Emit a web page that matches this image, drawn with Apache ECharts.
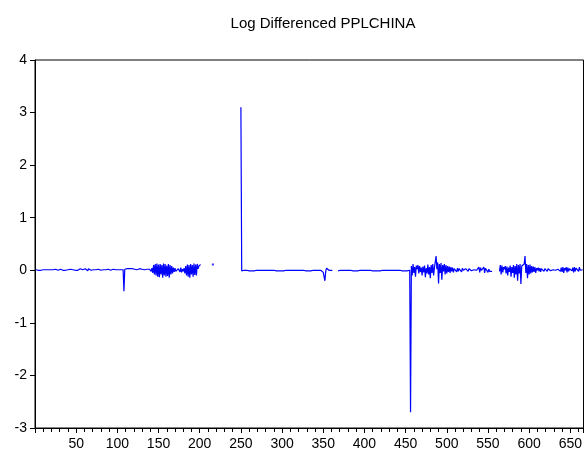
<!DOCTYPE html>
<html>
<head>
<meta charset="utf-8">
<script src="https://cdn.jsdelivr.net/npm/echarts@6/dist/echarts.min.js"></script>
<style>
  html, body { margin: 0; padding: 0; background: #fff; }
  #chart { width: 585px; height: 457px; }
</style>
</head>
<body>
<div id="chart"></div>
<script>
// Log-differenced PPLCHINA, stored as contiguous runs of observations.
// Each run starts at the observation number given by its *Start constant.

const runAStart = 1;
const runA = [
  0.01,0.00,0.01,0.00,0.01,0.01,0.00,0.01,0.02,0.01,
  0.01,0.02,0.01,0.00,0.01,0.01,0.02,0.01,0.01,0.00,
  0.01,0.01,0.00,0.01,0.02,0.01,0.01,0.00,0.01,0.01,
  0.02,0.01,0.01,0.00,0.01,0.01,0.00,0.02,0.01,0.01,
  0.00,0.01,0.02,0.01,0.00,0.01,0.01,0.02,0.00,0.01,
  0.01,0.00,0.02,0.01,0.03,0.00,0.02,0.01,0.03,-0.01,
  0.03,0.00,0.02,-0.01,0.03,0.01,0.02,0.00,0.02,0.01,
  0.01,0.00,0.02,0.01,0.01,0.00,0.02,0.01,0.01,0.00,
  0.01,0.02,0.01,0.00,0.01,0.01,0.00,0.01,0.02,0.01,
  0.01,0.00,0.01,0.01,0.02,0.01,0.00,0.01,0.01,0.00,
  0.01,0.01,0.00,0.01,0.01,0.00,0.01,-0.40,0.02,0.03,
  0.02,0.03,0.01,0.02,0.03,0.02,0.02,0.03,0.02,0.01,
  0.02,0.03,0.02,0.01,0.02,0.03,0.03,0.02,0.01,0.02,
  0.01,0.02,0.01,0.00,0.01,0.02,0.00,-0.01,0.02,0.00,
  -0.02,0.04,-0.05,0.10,-0.08,0.12,-0.10,0.13,-0.12,0.11,
  -0.13,0.12,-0.08,0.10,-0.14,0.13,-0.10,0.12,-0.12,0.09,
  -0.11,0.12,-0.14,0.10,-0.08,0.08,-0.06,0.05,-0.03,0.04,
  -0.02,0.01,-0.02,0.03,0.00,-0.03,0.05,-0.04,0.02,-0.02,
  0.04,-0.06,0.08,-0.10,0.11,-0.12,0.10,-0.14,0.12,-0.08,
  0.10,-0.12,0.13,-0.09,0.11,-0.10,0.12,0.03,0.08,0.10,0.11
];

// A lone observation surrounded by missing values
const loneObs = [[216, 0.11]];

const runBStart = 250;
const runB = [
  3.10,
  -0.01,0.00,-0.01,0.00,-0.01,-0.01,0.00,-0.01,0.00,-0.01,
  0.00,-0.01,-0.01,0.00,0.00,-0.01,0.00,-0.01,0.00,0.00,
  -0.01,0.00,0.00,-0.01,0.00,-0.01,-0.01,0.00,0.00,-0.01,
  0.00,0.00,-0.01,0.00,-0.01,0.00,0.00,-0.01,0.00,0.00,
  -0.01,0.00,-0.01,0.00,0.00,-0.01,0.00,0.00,-0.01,0.00,
  0.00,-0.01,0.00,-0.01,0.00,0.00,-0.01,0.00,0.00,-0.01,
  0.00,0.00,-0.01,0.00,0.00,-0.01,0.00,-0.01,0.00,0.00,
  -0.01,0.00,0.00,-0.01,0.00,0.00,-0.01,0.00,-0.01,0.00,
  0.00,-0.01,0.00,0.00,-0.01,0.00,-0.01,0.00,0.00,-0.01,
  0.00,0.00,-0.01,0.00,-0.01,0.00,0.00,-0.01,-0.02,-0.04,
  -0.03,-0.20,-0.02,0.04,0.03,0.01,0.00,-0.01,0.00,0.00,
  -0.01
];

const runCStart = 368;
const runC = [
  -0.01,0.00,-0.01,0.00,0.00,-0.01,0.00,-0.01,0.00,0.00,
  -0.01,0.00,0.00,-0.01,0.00,0.00,-0.01,0.00,-0.01,0.00,
  0.00,-0.01,0.00,0.00,-0.01,0.00,-0.01,0.00,0.00,-0.01,
  0.00,0.00,-0.01,0.00,-0.01,0.00,0.00,-0.01,0.00,0.00,
  -0.01,0.00,-0.01,0.00,0.00,-0.01,0.00,0.00,-0.01,0.00,
  0.00,-0.01,0.00,-0.01,0.00,0.00,-0.01,0.00,0.00,-0.01,
  0.00,0.00,-0.01,0.00,0.00,-0.01,0.00,-0.01,0.00,0.00,
  -0.01,0.00,0.00,-0.01,0.00,0.00,-0.01,0.00,-0.01,0.00,
  0.00,-0.01,0.00,0.00,-0.01,0.00,-0.01,0.00,
  -2.70,
  0.08,-0.10,0.12,-0.05,0.06,-0.12,0.09,0.02,0.10,-0.06,
  0.08,-0.03,0.05,-0.10,0.07,-0.04,0.09,-0.13,0.04,-0.06,
  0.11,-0.08,0.06,-0.15,0.10,-0.05,0.12,-0.10,0.05,0.08,
  0.27,0.02,0.15,-0.25,0.12,-0.05,0.14,-0.18,0.10,-0.02,
  0.12,-0.08,0.10,-0.06,0.08,-0.03,0.07,-0.05,0.06,-0.02,
  0.05,-0.04,0.03,0.00,0.05,-0.03,0.04,-0.02,0.03,0.00,
  0.02,-0.03,0.04,0.00,0.02,-0.02,0.03,0.01,0.00,-0.02,
  0.03,0.00,0.02,-0.01,0.02,0.00,0.01,-0.01,0.02,0.00,
  0.03,-0.02,0.06,-0.04,0.05,0.00,0.02,-0.03,0.06,-0.05,
  0.04,0.01,0.03,-0.04,0.02,-0.02,-0.03,-0.05,-0.02
];

const runDStart = 564;
const runD = [
  -0.02,0.10,-0.08,0.09,-0.04,0.06,0.02,0.08,-0.06,0.07,
  -0.10,0.05,-0.03,0.09,-0.12,0.06,-0.05,0.10,-0.14,0.08,
  -0.08,0.12,-0.20,0.10,-0.06,0.12,-0.26,0.08,0.05,0.10,
  0.12,0.27,-0.05,0.12,-0.15,0.10,-0.08,0.11,-0.06,0.08,
  -0.04,0.07,-0.03,0.06,-0.05,0.04,0.00,0.05,-0.02,0.04,
  -0.03,0.03,0.00,0.02,-0.02,0.03,0.01,0.00,-0.02,0.03,
  0.00,0.02,-0.01,0.02,0.00,0.01,-0.02,0.02,0.00,0.03,
  -0.01,0.02,0.00,0.03,-0.02,0.05,-0.03,0.06,-0.05,0.04,
  0.00,0.06,-0.04,0.05,-0.02,0.03,0.00,0.02,-0.01,0.05,
  -0.04,0.06,-0.02,0.04,0.01,0.03,-0.02,0.06,0.00,0.02,
  -0.03,0.01
];

const chartTitle = 'Log Differenced PPLCHINA';
const yTicks = [-3, -2, -1, 0, 1, 2, 3, 4];
const xTickStep = 50;

// Join the runs into [obs, value] pairs, with a null break between runs
const runs = [[runAStart, runA], [runBStart, runB], [runCStart, runC], [runDStart, runD]];
const lineData = [];
runs.forEach(([start, vals], r) => {
  if (r > 0) lineData.push([start - 1, null]);
  vals.forEach((v, i) => lineData.push([start + i, v]));
});

const FONT = '"Liberation Sans", Arial, sans-serif';
const chart = echarts.init(document.getElementById('chart'), null, { renderer: 'canvas' });

chart.setOption({
  animation: false,
  backgroundColor: '#ffffff',
  title: {
    text: chartTitle,
    left: 318,
    top: 11,
    textAlign: 'center',
    textStyle: { fontFamily: FONT, fontSize: 15, fontWeight: 'normal', color: '#000' }
  },
  grid: {
    left: 35, right: 1, top: 60, bottom: 29,
    show: true, borderColor: '#000', borderWidth: 1, backgroundColor: 'transparent'
  },
  xAxis: {
    type: 'value',
    min: 0,
    max: 666,
    interval: xTickStep,
    axisLine: { show: true, onZero: false, lineStyle: { color: '#000', width: 1 } },
    axisTick: { show: true, inside: false, length: 5, lineStyle: { color: '#000' } },
    minorTick: { show: true, splitNumber: 5, length: 4, lineStyle: { color: '#000' } },
    splitLine: { show: false },
    axisLabel: {
      margin: 9,
      fontFamily: FONT, fontSize: 14, color: '#000',
      showMinLabel: false, showMaxLabel: false,
      formatter: v => (v > 0 && v % xTickStep === 0) ? String(v) : ''
    }
  },
  yAxis: {
    type: 'value',
    min: yTicks[0],
    max: yTicks[yTicks.length - 1],
    interval: 1,
    axisLine: { show: true, lineStyle: { color: '#000', width: 1 } },
    axisTick: { show: true, inside: false, length: 5, lineStyle: { color: '#000' } },
    splitLine: { show: false },
    axisLabel: { margin: 8, fontFamily: FONT, fontSize: 14, color: '#000' }
  },
  series: [
    {
      type: 'line',
      data: lineData,
      showSymbol: false,
      connectNulls: false,
      lineStyle: { color: '#0000ff', width: 1.2 },
      emphasis: { disabled: true }
    },
    {
      type: 'scatter',
      data: loneObs,
      symbol: 'rect',
      symbolSize: 2,
      itemStyle: { color: '#0000ff' }
    }
  ]
});
</script>
</body>
</html>
